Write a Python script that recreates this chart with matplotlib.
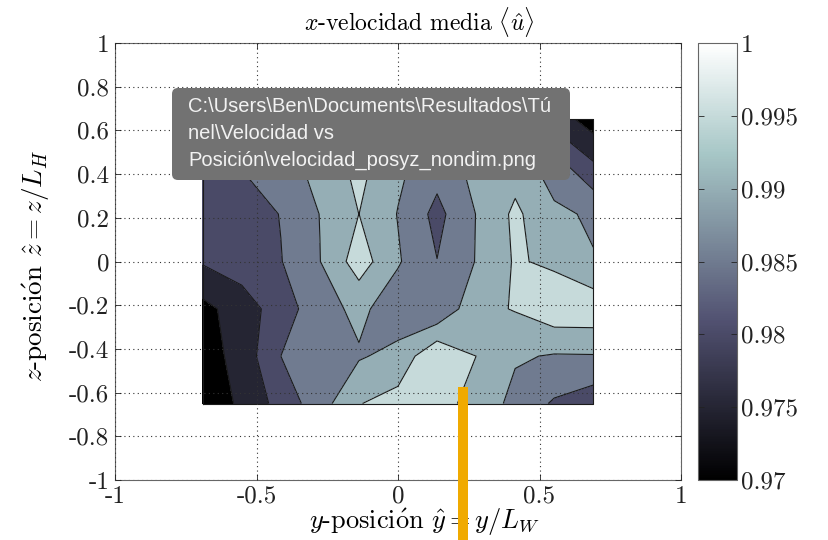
import matplotlib
matplotlib.use("Agg")
import matplotlib.pyplot as plt
from matplotlib.colors import Normalize
from matplotlib.cm import ScalarMappable
from matplotlib.patches import FancyBboxPatch, Rectangle

# Measurement grid (non-dimensional positions)
y_pos = [-0.69, -0.552, -0.414, -0.276, -0.138, 0.0, 0.138, 0.276, 0.414, 0.552, 0.69]
z_pos = [-0.65, -0.433, -0.217, 0.0, 0.217, 0.433, 0.65]

# Mean x-velocity, one row per z position (bottom to top)
u_hat = [
    [0.9720, 0.9758, 0.9819, 0.9878, 0.9948, 0.9970, 0.9962, 0.9939, 0.9883, 0.9844, 0.9820],
    [0.9725, 0.9770, 0.9850, 0.9875, 0.9895, 0.9915, 0.9995, 0.9950, 0.9906, 0.9896, 0.9897],
    [0.9735, 0.9775, 0.9825, 0.9880, 0.99125, 0.9870, 0.9855, 0.9936, 0.9953, 0.9984, 0.9985],
    [0.9805, 0.9825, 0.9848, 0.9899, 0.9975, 0.9905, 0.9851, 0.9902, 0.9955, 0.9941, 0.9903],
    [0.9810, 0.9820, 0.9852, 0.9901, 0.99502, 0.9898, 0.9835, 0.9901, 0.9960, 0.9910, 0.9893],
    [0.9820, 0.9852, 0.9880, 0.9915, 0.9965, 0.9910, 0.9870, 0.9915, 0.9930, 0.9875, 0.9810],
    [0.9780, 0.9820, 0.9860, 0.9890, 0.9930, 0.9900, 0.9880, 0.9900, 0.9890, 0.9780, 0.9725],
]

levels = [0.97, 0.975, 0.98, 0.985, 0.99, 0.995, 1.0]

x_ticks = [-1, -0.5, 0, 0.5, 1]
x_tick_labels = ["-1", "-0.5", "0", "0.5", "1"]
z_ticks = [-1, -0.8, -0.6, -0.4, -0.2, 0, 0.2, 0.4, 0.6, 0.8, 1]
z_tick_labels = ["-1", "-0.8", "-0.6", "-0.4", "-0.2", "0", "0.2", "0.4", "0.6", "0.8", "1"]
cbar_ticks = [0.97, 0.975, 0.98, 0.985, 0.99, 0.995, 1.0]
cbar_tick_labels = ["0.97", "0.975", "0.98", "0.985", "0.99", "0.995", "1"]

tooltip_lines = [
    "C:\\Users\\Ben\\Documents\\Resultados\\Tú",
    "nel\\Velocidad vs",
    "Posición\\velocidad_posyz_nondim.png",
]

plt.rcParams["font.family"] = ["cmr10", "DejaVu Serif"]
plt.rcParams["mathtext.fontset"] = "cm"
plt.rcParams["axes.unicode_minus"] = False
plt.rcParams["axes.formatter.use_mathtext"] = True

W, H = 829, 540
fig = plt.figure(figsize=(W / 100, H / 100), dpi=100)

ax = fig.add_axes([115 / W, 1 - 480 / H, (681 - 115) / W, (480 - 43) / H])
cmap = plt.get_cmap("bone")
norm = Normalize(vmin=levels[0], vmax=levels[-1])
band_colors = [cmap(norm(v)) for v in levels[:-1]]

ax.contourf(y_pos, z_pos, u_hat, levels=levels, colors=band_colors, zorder=1)
ax.contour(y_pos, z_pos, u_hat, levels=levels[1:-1], colors="#1a1a1a",
           linewidths=0.8, zorder=2)
ax.plot([y_pos[0], y_pos[-1], y_pos[-1], y_pos[0], y_pos[0]],
        [z_pos[0], z_pos[0], z_pos[-1], z_pos[-1], z_pos[0]],
        color="#1a1a1a", lw=0.8, zorder=2)

ax.set_xlim(-1, 1)
ax.set_ylim(-1, 1)
ax.set_xticks(x_ticks)
ax.set_xticklabels(x_tick_labels)
ax.set_yticks(z_ticks)
ax.set_yticklabels(z_tick_labels)
ax.tick_params(direction="in", length=4, width=0.6, top=True, right=True,
               labelsize=18, colors="#222222", pad=4)
ax.grid(True, linestyle=(0, (1, 3)), color="#333333", linewidth=0.8)
ax.set_axisbelow(False)
for sp in ax.spines.values():
    sp.set_color("#666666")
    sp.set_linewidth(0.8)

oacute = r"$\acute{\mathrm{o}}$"
ax.set_title(r"$x$-velocidad media $\langle\hat{u}\rangle$", fontsize=17,
             x=(419 - 115) / (681 - 115), pad=9)
ax.set_xlabel(r"$y$-posici" + oacute + r"n $\hat{y} = y/L_W$", fontsize=19)
ax.xaxis.set_label_coords((425 - 115) / (681 - 115), -(522 - 480) / (480 - 43))
ax.set_ylabel(r"$z$-posici" + oacute + r"n $\hat{z} = z/L_H$", fontsize=19.5)
ax.yaxis.set_label_coords(-(115 - 36) / (681 - 115), (480 - 266) / (480 - 43))
ax.xaxis.label.set_va("center")
ax.yaxis.label.set_va("center")

cax = fig.add_axes([698 / W, 1 - 480 / H, 39 / W, (480 - 43) / H])
cb = fig.colorbar(ScalarMappable(norm=norm, cmap=cmap), cax=cax)
cb.set_ticks(cbar_ticks)
cb.set_ticklabels(cbar_tick_labels)
cax.tick_params(direction="in", length=4, width=0.6, left=True, right=True,
                labelsize=18, colors="#222222", pad=3)
cb.outline.set_edgecolor("#666666")
cb.outline.set_linewidth(0.8)

# Screen overlay in pixel coordinates: hover tooltip and cursor bar
ov = fig.add_axes([0, 0, 1, 1], zorder=10)
ov.set_xlim(0, W)
ov.set_ylim(H, 0)
ov.axis("off")
ov.add_patch(FancyBboxPatch((172, 88), 398, 92,
                            boxstyle="round,pad=0,rounding_size=6",
                            fc="#727272", ec="none"))
for k, line in enumerate(tooltip_lines):
    ov.text(188, 107 + 26.5 * k, line, fontsize=14.5, color="#f2f2f2",
            family=["Liberation Sans", "DejaVu Sans"], va="center", ha="left")
ov.add_patch(Rectangle((458, 387), 10, H - 387, fc="#f0aa00", ec="none"))

fig.savefig("out.png", dpi=100)
